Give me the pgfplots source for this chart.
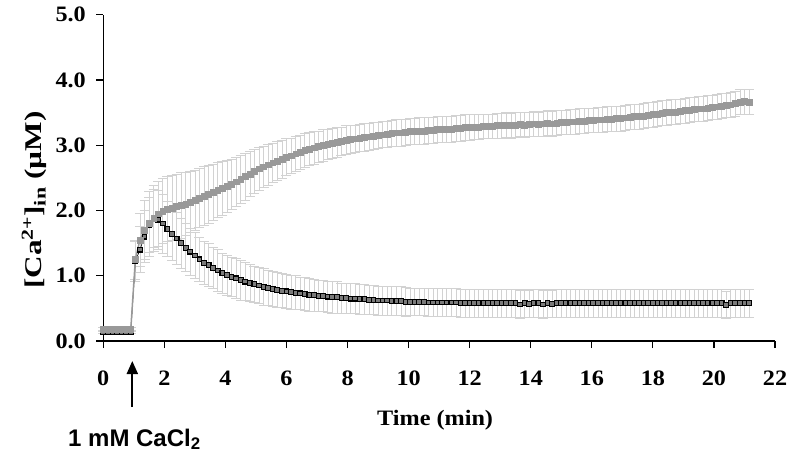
\documentclass[border=0pt]{standalone}
\usepackage{pgfplots}
\pgfplotsset{compat=1.18}
\usepackage{pgfplotstable}
\usetikzlibrary{arrows.meta}
\usepackage{fontspec}
\setmainfont[FakeStretch=1.1]{Liberation Serif}
\newfontfamily\ylabfont[FakeStretch=1.3]{Liberation Serif}
\newfontfamily\arialfont{Liberation Sans}
\definecolor{serg}{HTML}{999999}
\definecolor{errc}{HTML}{D2D2D2}
\definecolor{serbfill}{HTML}{7A7A7A}

\pgfplotstableread{
t g ge b be
0.00 0.18 0.03 0.14 0.03
0.15 0.18 0.03 0.14 0.03
0.30 0.18 0.03 0.14 0.03
0.45 0.18 0.03 0.14 0.03
0.60 0.18 0.03 0.14 0.03
0.75 0.18 0.03 0.14 0.03
0.90 0.18 0.03 0.14 0.03
1.05 1.25 0.30 1.22 0.30
1.20 1.55 0.40 1.40 0.35
1.35 1.70 0.45 1.60 0.40
1.50 1.80 0.50 1.78 0.42
1.65 1.88 0.50 1.88 0.45
1.80 1.95 0.50 1.86 0.45
1.95 1.99 0.50 1.80 0.45
2.10 2.02 0.50 1.72 0.42
2.25 2.04 0.50 1.64 0.40
2.40 2.06 0.50 1.57 0.40
2.55 2.08 0.50 1.50 0.38
2.70 2.10 0.48 1.43 0.37
2.85 2.13 0.47 1.37 0.36
3.00 2.16 0.46 1.31 0.35
3.15 2.19 0.45 1.25 0.34
3.30 2.22 0.45 1.20 0.33
3.45 2.25 0.44 1.16 0.33
3.60 2.28 0.43 1.12 0.32
3.75 2.31 0.42 1.08 0.32
3.90 2.34 0.41 1.04 0.31
4.05 2.37 0.40 1.01 0.31
4.20 2.40 0.39 0.98 0.30
4.35 2.44 0.38 0.96 0.30
4.50 2.48 0.37 0.93 0.30
4.65 2.52 0.36 0.91 0.29
4.80 2.56 0.35 0.89 0.29
4.95 2.60 0.34 0.87 0.28
5.10 2.64 0.33 0.85 0.28
5.25 2.67 0.32 0.83 0.28
5.40 2.70 0.31 0.81 0.27
5.55 2.73 0.30 0.80 0.27
5.70 2.76 0.30 0.78 0.27
5.85 2.79 0.29 0.77 0.26
6.00 2.82 0.28 0.76 0.26
6.15 2.84 0.27 0.75 0.26
6.30 2.87 0.27 0.74 0.26
6.45 2.89 0.26 0.73 0.25
6.60 2.92 0.26 0.72 0.25
6.75 2.94 0.25 0.71 0.25
6.90 2.96 0.25 0.70 0.25
7.05 2.98 0.24 0.69 0.24
7.20 3.00 0.24 0.69 0.24
7.35 3.02 0.23 0.68 0.24
7.50 3.03 0.23 0.67 0.24
7.65 3.05 0.23 0.67 0.24
7.80 3.06 0.22 0.66 0.23
7.95 3.08 0.22 0.66 0.23
8.10 3.09 0.22 0.65 0.23
8.25 3.10 0.21 0.65 0.23
8.40 3.11 0.21 0.64 0.23
8.55 3.12 0.21 0.64 0.23
8.70 3.13 0.21 0.63 0.22
8.85 3.14 0.21 0.63 0.22
9.00 3.15 0.20 0.62 0.22
9.15 3.16 0.20 0.62 0.22
9.30 3.17 0.20 0.62 0.22
9.45 3.18 0.20 0.61 0.22
9.60 3.19 0.20 0.61 0.22
9.75 3.19 0.20 0.61 0.22
9.90 3.20 0.20 0.60 0.22
10.05 3.21 0.20 0.60 0.21
10.20 3.21 0.20 0.60 0.21
10.35 3.22 0.20 0.60 0.21
10.50 3.22 0.20 0.60 0.21
10.65 3.23 0.20 0.59 0.21
10.80 3.23 0.20 0.59 0.21
10.95 3.24 0.20 0.59 0.21
11.10 3.24 0.20 0.59 0.21
11.25 3.25 0.20 0.59 0.21
11.40 3.25 0.20 0.59 0.21
11.55 3.26 0.20 0.59 0.21
11.70 3.26 0.20 0.58 0.21
11.85 3.27 0.20 0.58 0.21
12.00 3.27 0.20 0.58 0.21
12.15 3.28 0.19 0.58 0.21
12.30 3.28 0.19 0.58 0.21
12.45 3.29 0.19 0.58 0.21
12.60 3.29 0.19 0.58 0.21
12.75 3.29 0.19 0.58 0.21
12.90 3.30 0.19 0.58 0.21
13.05 3.30 0.19 0.58 0.21
13.20 3.31 0.19 0.58 0.21
13.35 3.30 0.19 0.58 0.21
13.50 3.31 0.19 0.58 0.21
13.65 3.32 0.19 0.56 0.21
13.80 3.31 0.19 0.58 0.21
13.95 3.32 0.19 0.57 0.21
14.10 3.33 0.19 0.58 0.21
14.25 3.32 0.19 0.58 0.21
14.40 3.33 0.19 0.56 0.21
14.55 3.34 0.19 0.58 0.21
14.70 3.33 0.19 0.57 0.21
14.85 3.34 0.19 0.58 0.21
15.00 3.35 0.19 0.58 0.21
15.15 3.35 0.19 0.58 0.21
15.30 3.36 0.19 0.58 0.21
15.45 3.36 0.19 0.58 0.21
15.60 3.37 0.19 0.58 0.21
15.75 3.37 0.19 0.58 0.21
15.90 3.38 0.19 0.58 0.21
16.05 3.38 0.19 0.58 0.21
16.20 3.39 0.19 0.58 0.21
16.35 3.39 0.19 0.58 0.21
16.50 3.40 0.19 0.58 0.21
16.65 3.40 0.19 0.58 0.21
16.80 3.41 0.19 0.58 0.21
16.95 3.41 0.19 0.58 0.21
17.10 3.42 0.19 0.58 0.21
17.25 3.43 0.19 0.58 0.21
17.40 3.44 0.19 0.58 0.21
17.55 3.44 0.19 0.58 0.21
17.70 3.45 0.19 0.58 0.21
17.85 3.46 0.19 0.58 0.21
18.00 3.47 0.19 0.58 0.21
18.15 3.48 0.19 0.58 0.21
18.30 3.49 0.19 0.58 0.21
18.45 3.50 0.19 0.58 0.21
18.60 3.51 0.19 0.58 0.21
18.75 3.51 0.19 0.58 0.21
18.90 3.52 0.19 0.58 0.21
19.05 3.53 0.19 0.58 0.21
19.20 3.54 0.19 0.58 0.21
19.35 3.55 0.19 0.58 0.21
19.50 3.56 0.19 0.58 0.21
19.65 3.56 0.19 0.58 0.21
19.80 3.57 0.19 0.58 0.21
19.95 3.58 0.19 0.58 0.21
20.10 3.59 0.19 0.58 0.21
20.25 3.60 0.19 0.58 0.21
20.40 3.61 0.19 0.55 0.21
20.55 3.62 0.19 0.58 0.21
20.70 3.64 0.19 0.58 0.21
20.85 3.66 0.19 0.58 0.21
21.00 3.67 0.19 0.58 0.21
21.15 3.66 0.19 0.58 0.21
}\data

\begin{document}
\begin{tikzpicture}
\path[use as bounding box] (-103.3pt,-117pt) rectangle (690.7pt,341pt);
\begin{axis}[
  at={(0pt,0pt)}, anchor=south west,
  scale only axis, width=671.7pt, height=326.3pt,
  xmin=0, xmax=22, ymin=0, ymax=5,
  axis x line*=bottom, axis y line*=left,
  xtick={0,2,...,22}, ytick={0,1,...,5},
  tick align=outside, major tick length=7pt,
  tick style={black, line width=1.2pt},
  axis line style={black, line width=1.3pt},
  /pgf/number format/assume math mode=true,
  yticklabel style={/pgf/number format/fixed, /pgf/number format/fixed zerofill, /pgf/number format/precision=1, xshift=-7pt},
  xticklabel style={yshift=-19pt},
  tick label style={font=\fontsize{22}{22}\selectfont\bfseries},
  xlabel={Time (min)},
  ylabel={[Ca\textsuperscript{2+}]\textsubscript{in} (µM)},
  xlabel style={font=\fontsize{22}{22}\selectfont\bfseries, at={([yshift=-84pt]axis description cs:0.494,0)}, anchor=base},
  ylabel style={font=\ylabfont\fontsize{24}{24}\selectfont\bfseries, at={([xshift=-69pt]axis description cs:0,0.432)}, anchor=center},
  clip=false,
]
% error bars
\addplot[forget plot, only marks, mark=none,
  error bars/.cd, y dir=both, y explicit,
  error bar style={color=errc, line width=0.7pt},
  error mark options={rotate=90, mark size=5pt, color=errc, line width=0.7pt}]
  table[x=t, y=b, y error=be] {\data};
\addplot[forget plot, only marks, mark=none,
  error bars/.cd, y dir=both, y explicit,
  error bar style={color=errc, line width=0.7pt},
  error mark options={rotate=90, mark size=5pt, color=errc, line width=0.7pt}]
  table[x=t, y=g, y error=ge] {\data};
% black series
\addplot[black, line width=0.6pt, mark=square*, mark size=2.4pt,
  mark options={draw=black, fill=serbfill, line width=1.1pt}]
  table[x=t, y=b] {\data};
% gray series
\addplot[serg, line width=1.5pt, mark=square*, mark size=2.9pt,
  mark options={draw=serg, fill=serg, line width=0.5pt}]
  table[x=t, y=g] {\data};
% annotation
\draw[black, line width=2pt, -{Stealth[length=13pt, width=11pt, inset=0pt]}]
  ([yshift=-66pt]axis cs:0.95,0) -- ([yshift=-20pt]axis cs:0.95,0);
\node[anchor=base, font=\arialfont\bfseries\fontsize{24}{24}\selectfont]
  at ([yshift=-105pt]axis cs:1.02,0) {1 mM CaCl\textsubscript{2}};
\end{axis}
\end{tikzpicture}
\end{document}
